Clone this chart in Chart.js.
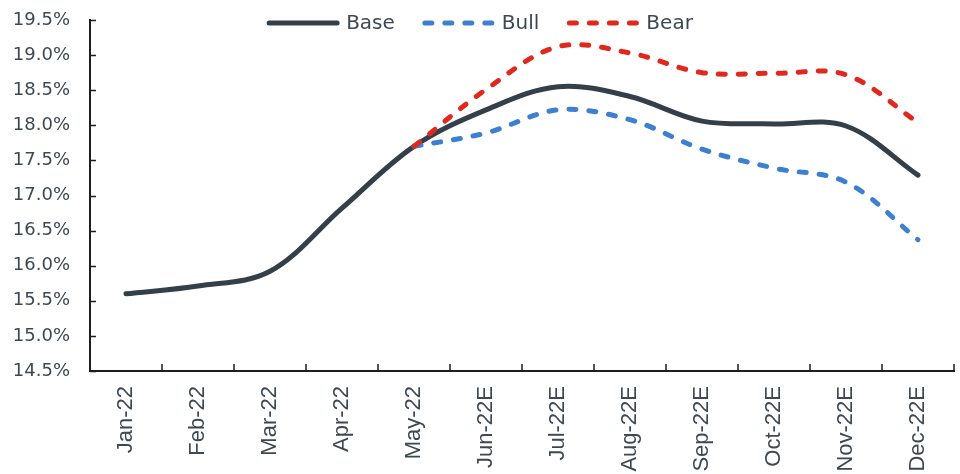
<!DOCTYPE html>
<html>
<head>
<meta charset="utf-8">
<script src="https://cdn.jsdelivr.net/npm/chart.js@4.4.1/dist/chart.umd.min.js"></script>
<style>
  html, body { margin: 0; padding: 0; background: #ffffff; }
  #wrap { width: 960px; height: 474px; position: relative; }
</style>
</head>
<body>
<div id="wrap"><canvas id="c" width="960" height="474"></canvas></div>
<script>
const categories = ["Jan-22","Feb-22","Mar-22","Apr-22","May-22","Jun-22E","Jul-22E","Aug-22E","Sep-22E","Oct-22E","Nov-22E","Dec-22E"];
const baseValues = [15.60, 15.71, 15.92, 16.82, 17.70, 18.22, 18.55, 18.41, 18.06, 18.02, 17.99, 17.29];
const bullValues = [null, null, null, null, 17.70, 17.89, 18.22, 18.08, 17.66, 17.39, 17.19, 16.37];
const bearValues = [null, null, null, null, 17.70, 18.51, 19.12, 19.03, 18.75, 18.74, 18.72, 18.04];
const yTickMin = 14.5, yTickMax = 19.5, yTickStep = 0.5;

const TEXT = '#3f4852';
const AXIS = '#1e1e1e';

const tickMarks = {
  id: 'tickMarks',
  afterDraw(chart) {
    const ctx = chart.ctx;
    const x = chart.scales.x, y = chart.scales.y;
    const ca = chart.chartArea;
    ctx.save();
    ctx.strokeStyle = AXIS;
    ctx.lineWidth = 1.5;
    ctx.beginPath();
    y.ticks.forEach((t, i) => {
      const py = Math.round(y.getPixelForTick(i)) + 0.5;
      ctx.moveTo(ca.left, py);
      ctx.lineTo(ca.left + 6, py);
    });
    for (let i = 1; i <= categories.length; i++) {
      const px = x.getPixelForTick(i - 1) + (x.getPixelForTick(1) - x.getPixelForTick(0)) / 2;
      ctx.moveTo(px, ca.bottom);
      ctx.lineTo(px, ca.bottom - 7);
    }
    ctx.stroke();
    ctx.restore();
  }
};

const customLegend = {
  id: 'customLegend',
  afterDraw(chart) {
    const ctx = chart.ctx;
    const ds = chart.data.datasets;
    const lineLen = 72, gapText = 7, gapItem = 28, cy = 23;
    ctx.save();
    ctx.font = '20px "DejaVu Sans"';
    const widths = ds.map(d => lineLen + gapText + ctx.measureText(d.label).width);
    const total = widths.reduce((a, b) => a + b, 0) + gapItem * (ds.length - 1);
    let x0 = chart.width / 2 - total / 2;
    ds.forEach((d, i) => {
      ctx.beginPath();
      ctx.setLineDash(d.borderDash || []);
      ctx.lineCap = 'round';
      ctx.strokeStyle = d.borderColor;
      ctx.lineWidth = d.borderWidth;
      ctx.moveTo(x0 + 2, cy);
      ctx.lineTo(x0 + lineLen - 2, cy);
      ctx.stroke();
      ctx.setLineDash([]);
      ctx.fillStyle = TEXT;
      ctx.textBaseline = 'middle';
      ctx.textAlign = 'left';
      ctx.fillText(d.label, x0 + lineLen + gapText, cy + 1);
      x0 += widths[i] + gapItem;
    });
    ctx.restore();
  }
};

new Chart(document.getElementById('c'), {
  type: 'line',
  data: {
    labels: categories,
    datasets: [
      { label: 'Base', data: baseValues, borderColor: '#343f4a', borderWidth: 5, borderCapStyle: 'round', order: 3 },
      { label: 'Bull', data: bullValues, borderColor: '#3d7fd0', borderWidth: 5, borderDash: [7, 13], borderCapStyle: 'round', order: 2 },
      { label: 'Bear', data: bearValues, borderColor: '#e0281f', borderWidth: 5, borderDash: [7, 13], borderCapStyle: 'round', order: 1 }
    ]
  },
  options: {
    responsive: false,
    animation: false,
    devicePixelRatio: 1,
    layout: { padding: { top: 20, right: 6, left: 0, bottom: 0 } },
    elements: {
      point: { radius: 0, hoverRadius: 0 },
      line: { tension: 0.35, fill: false, borderJoinStyle: 'round' }
    },
    plugins: { legend: { display: false }, tooltip: { enabled: false } },
    scales: {
      x: {
        type: 'category',
        offset: true,
        grid: { display: true, drawOnChartArea: false, drawTicks: false, offset: true },
        border: { display: true, color: AXIS, width: 2 },
        ticks: {
          autoSkip: false, minRotation: 90, maxRotation: 90, padding: 15,
          color: TEXT, font: { family: '"Liberation Sans", Arial', size: 22 }
        },
        afterFit(s) { s.height = 103; s.paddingLeft = 0; s.paddingRight = 0; s.paddingTop = 0; s.paddingBottom = 0; }
      },
      y: {
        min: yTickMin, max: yTickMax,
        grid: { display: true, drawOnChartArea: false, drawTicks: false },
        border: { display: true, color: AXIS, width: 2 },
        ticks: {
          stepSize: yTickStep, padding: 20, color: TEXT,
          font: { family: '"DejaVu Sans"', size: 18 },
          callback: v => v.toFixed(1) + '%'
        },
        afterFit(s) { s.width = 90; s.paddingTop = 0; s.paddingBottom = 0; s.paddingLeft = 0; s.paddingRight = 0; }
      }
    }
  },
  plugins: [tickMarks, customLegend]
});
</script>
</body>
</html>
